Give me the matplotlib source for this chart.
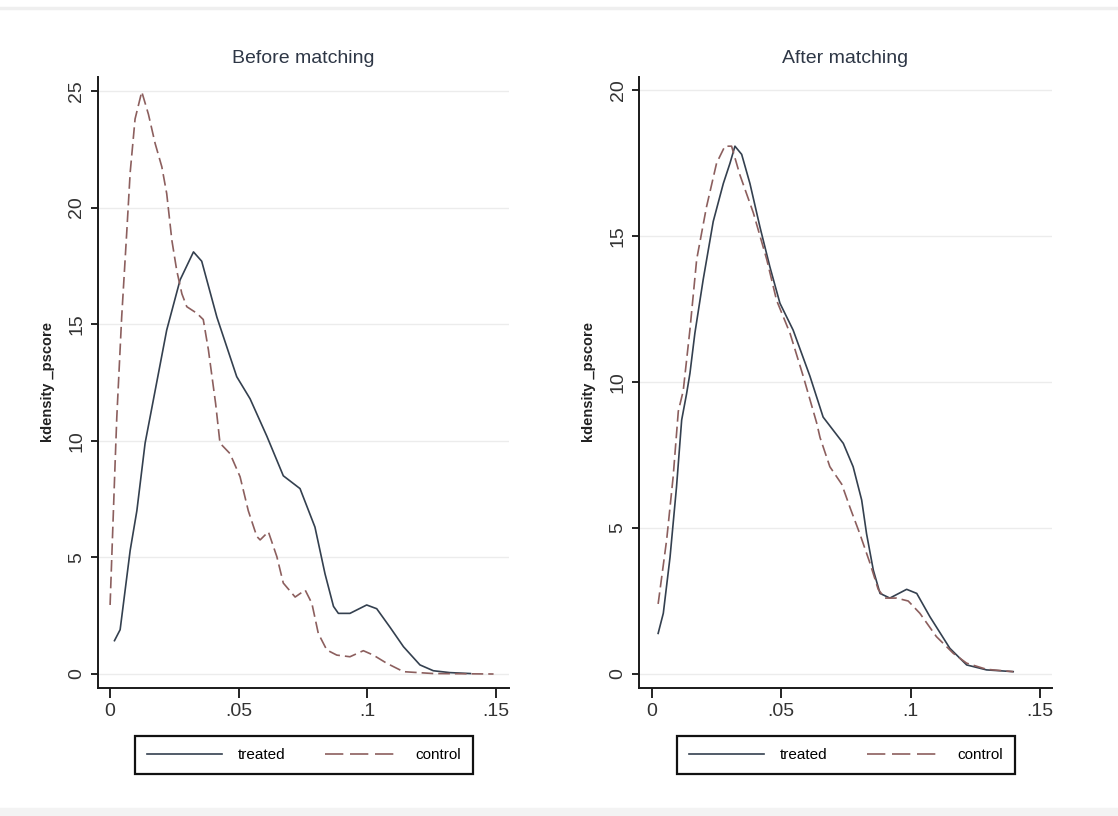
import numpy as np
import matplotlib.pyplot as plt
from matplotlib.lines import Line2D

plt.rcParams['font.family'] = ['Liberation Sans', 'DejaVu Sans']

# kernel density of the propensity score
before_treated_x = [0.0017, 0.0039, 0.0078, 0.0104, 0.0136, 0.0162, 0.022, 0.0272, 0.0324, 0.0356,
                    0.0415, 0.0492, 0.0544, 0.0609, 0.0673, 0.0738, 0.0796, 0.0835, 0.0868, 0.0887,
                    0.0932, 0.0997, 0.1036, 0.1088, 0.114, 0.1204, 0.1256, 0.132, 0.14]
before_treated_y = [1.43, 1.9, 5.3, 7.0, 9.9, 11.4, 14.75, 16.9, 18.1, 17.7,
                    15.3, 12.75, 11.8, 10.2, 8.5, 7.95, 6.3, 4.3, 2.9, 2.6,
                    2.6, 2.96, 2.8, 2.0, 1.17, 0.39, 0.14, 0.06, 0.02]

before_control_x = [0.0, 0.0019, 0.0026, 0.0045, 0.0065, 0.0078, 0.0097, 0.0123, 0.0149, 0.0175,
                    0.0201, 0.022, 0.024, 0.0259, 0.0279, 0.0298, 0.0337, 0.0362, 0.0382, 0.041,
                    0.0427, 0.0466, 0.0505, 0.0537, 0.057, 0.0583, 0.0615, 0.0648, 0.0673, 0.0719,
                    0.0758, 0.0784, 0.0809, 0.0842, 0.0881, 0.0932, 0.0984, 0.1023, 0.1075, 0.114,
                    0.1256, 0.149]
before_control_y = [2.96, 8.9, 11.0, 15.3, 19.0, 21.5, 23.8, 24.97, 24.0, 22.75,
                    21.75, 20.6, 18.6, 17.3, 16.3, 15.75, 15.47, 15.2, 13.9, 11.6,
                    9.9, 9.45, 8.46, 7.0, 5.9, 5.75, 6.1, 5.03, 3.9, 3.3,
                    3.6, 3.03, 1.74, 1.03, 0.81, 0.74, 1.0, 0.81, 0.46, 0.1,
                    0.02, 0.0]

after_treated_x = [0.0024, 0.0044, 0.007, 0.0095, 0.0115, 0.0134, 0.0147, 0.0166, 0.0198, 0.0237,
                   0.0276, 0.0302, 0.0321, 0.0347, 0.0379, 0.0418, 0.0456, 0.0495, 0.0546, 0.0611,
                   0.0662, 0.074, 0.0778, 0.0811, 0.083, 0.0856, 0.0882, 0.092, 0.0985, 0.1024,
                   0.1075, 0.1152, 0.1217, 0.1294, 0.1397]
after_treated_y = [1.39, 2.08, 4.0, 6.4, 8.7, 9.6, 10.3, 11.67, 13.5, 15.5,
                   16.8, 17.5, 18.08, 17.8, 16.8, 15.3, 13.95, 12.7, 11.78, 10.2,
                   8.8, 7.9, 7.1, 5.96, 4.8, 3.56, 2.76, 2.6, 2.9, 2.76,
                   1.96, 0.88, 0.31, 0.14, 0.08]

after_control_x = [0.0024, 0.0057, 0.0082, 0.0102, 0.0121, 0.0147, 0.0173, 0.0211, 0.025, 0.0282,
                   0.0308, 0.034, 0.0392, 0.0444, 0.0482, 0.0534, 0.0585, 0.0637, 0.065, 0.0688,
                   0.0734, 0.0766, 0.0804, 0.0843, 0.0875, 0.0901, 0.0946, 0.0991, 0.1036, 0.11,
                   0.1165, 0.1217, 0.1294, 0.1397]
after_control_y = [2.4, 4.6, 6.75, 9.0, 9.7, 11.8, 14.2, 16.0, 17.5, 18.08,
                   18.08, 17.1, 15.8, 14.2, 12.8, 11.67, 10.2, 8.6, 8.1, 7.1,
                   6.5, 5.7, 4.8, 3.8, 2.9, 2.6, 2.6, 2.5, 2.08, 1.28,
                   0.71, 0.37, 0.16, 0.08]

titles = ["Before matching", "After matching"]
ylabel = "kdensity _pscore"
xticks = [0, 0.05, 0.1, 0.15]
xticklabels = ["0", ".05", ".1", ".15"]
yticks_before = [0, 5, 10, 15, 20, 25]
yticks_after = [0, 5, 10, 15, 20]
legend_labels = ["treated", "control"]

c_treated = "#34404f"
c_control = "#8c5f5e"
c_text = "#2e3746"

fig = plt.figure(figsize=(11.18, 8.16), dpi=100)
fig.patch.set_facecolor("white")

# faint bands at the top and bottom of the screenshot
fig.add_artist(Line2D([0, 1], [1 - 8 / 816, 1 - 8 / 816], color="#efefef", lw=2.5))
fig.add_artist(Line2D([0, 1], [4 / 816, 4 / 816], color="#f3f3f3", lw=6))

ax1 = fig.add_axes([98 / 1118, 1 - 688 / 816, 411 / 1118, 611 / 816])
ax2 = fig.add_axes([639 / 1118, 1 - 688 / 816, 413 / 1118, 611 / 816])

panels = [
    (ax1, before_treated_x, before_treated_y, before_control_x, before_control_y,
     yticks_before, (-0.6, 25.6), (-0.0047, 0.155)),
    (ax2, after_treated_x, after_treated_y, after_control_x, after_control_y,
     yticks_after, (-0.48, 20.45), (-0.005, 0.1547)),
]

for i, (ax, tx, ty, cx, cy, yt, ylim, xlim) in enumerate(panels):
    ax.plot(tx, ty, color=c_treated, lw=1.2)
    ax.plot(cx, cy, color=c_control, lw=1.2, linestyle=(0, (7, 3)))
    ax.set_xlim(*xlim)
    ax.set_ylim(*ylim)
    ax.set_xticks(xticks)
    ax.set_xticklabels(xticklabels)
    ax.set_yticks(yt)
    ax.set_yticklabels([str(v) for v in yt], rotation=90, va="center")
    for y in yt:
        ax.axhline(y, color="#ececec", lw=1, zorder=0)
    for s in ["top", "right"]:
        ax.spines[s].set_visible(False)
    for s in ["left", "bottom"]:
        ax.spines[s].set_linewidth(1.4)
        ax.spines[s].set_color("#1a1a1a")
    ax.tick_params(axis="x", length=7, width=1.2, labelsize=14, pad=4, labelcolor="#333333")
    ax.tick_params(axis="y", length=5, width=1.2, labelsize=14, pad=4, labelcolor="#333333")
    ax.set_title(titles[i], fontsize=14, color=c_text, pad=10)
    ax.set_ylabel(ylabel, fontsize=10.5, labelpad=10, fontweight="semibold", color="#222222")

    # legend keys: the dashed sample uses longer dashes, as in the reference
    handles = [Line2D([], [], color=c_treated, lw=1.2),
               Line2D([], [], color=c_control, lw=1.2, linestyle=(0, (11, 4)))]
    cx_fig = [304 / 1118, 846 / 1118][i]
    leg = ax.legend(handles, legend_labels, loc="center", bbox_to_anchor=(cx_fig, 1 - 755 / 816),
                    bbox_transform=fig.transFigure, ncol=2, fontsize=11,
                    handlelength=4.9, columnspacing=2.6, handletextpad=1.0,
                    fancybox=False, edgecolor="#111111", framealpha=1,
                    borderpad=0.8, borderaxespad=0)
    leg.get_frame().set_linewidth(1.6)

fig.savefig("out.png", dpi=100, facecolor="white")
